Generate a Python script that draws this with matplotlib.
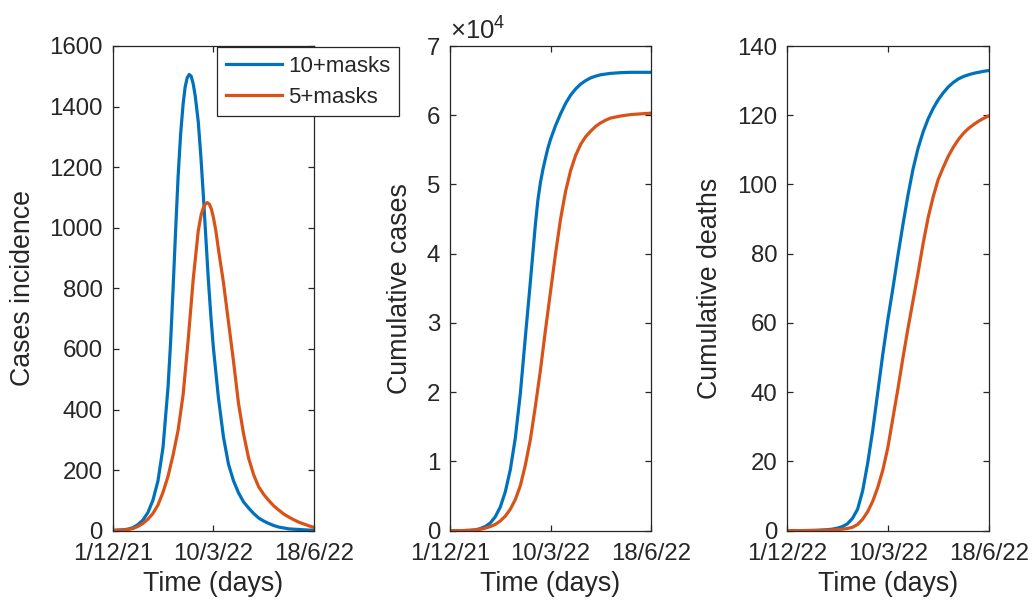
import matplotlib
matplotlib.use("Agg")
import matplotlib.pyplot as plt
from matplotlib.ticker import FuncFormatter

plt.rcParams['font.family'] = ['Liberation Sans', 'DejaVu Sans']
plt.rcParams['mathtext.fontset'] = 'custom'
plt.rcParams['mathtext.rm'] = 'Liberation Sans'

# ---------------- data ----------------
series_labels = ['10+masks', '5+masks']
colors = ['#0072BD', '#D95319']

# Panel 1: cases incidence
inc_days_blue = [0, 5, 10, 15, 20, 25, 30, 35, 40, 45, 50, 55, 57.5, 60, 62.5, 65, 67.5, 70, 72, 74,
                 76, 78, 80, 82, 85, 87.5, 90, 92.5, 95, 97.5, 100, 105, 110, 115, 120, 125, 130,
                 135, 140, 145, 150, 155, 160, 165, 170, 175, 180, 185, 190, 195, 200]
inc_blue = [1, 2, 3, 5, 10, 20, 35, 60, 101, 165, 275, 475, 620, 800, 990, 1170, 1310, 1410, 1465, 1495,
            1506, 1500, 1475, 1435, 1350, 1240, 1110, 970, 830, 710, 605, 440, 310, 220, 165, 125, 95,
            75, 57, 42, 32, 24, 17, 12, 9, 6, 5, 4, 3, 2, 2]
inc_days_orange = [0, 5, 10, 15, 20, 25, 30, 35, 40, 45, 50, 55, 60, 65, 70, 75, 80, 85, 88, 90, 92,
                   94, 96, 98, 100, 102.5, 105, 110, 115, 120, 125, 130, 135, 140, 145, 150, 155,
                   160, 165, 170, 175, 180, 185, 190, 195, 200]
inc_orange = [1, 1.5, 2, 4, 7, 14, 24, 38, 57, 85, 127, 180, 250, 332, 450, 630, 830, 990, 1045, 1065,
              1078, 1083, 1078, 1062, 1035, 990, 930, 820, 690, 560, 420, 320, 240, 185, 145, 120,
              100, 82, 68, 55, 45, 36, 28, 22, 16, 11]

# Panel 2: cumulative cases
cum_days_blue = [0, 5, 10, 15, 20, 25, 30, 35, 40, 45, 50, 55, 60, 65, 70, 75, 80, 85, 87.5, 90,
                 92.5, 95, 97.5, 100, 105, 110, 115, 120, 125, 130, 135, 140, 145, 150, 155, 160,
                 170, 180, 190, 200]
cum_blue = [0, 0, 10, 30, 60, 120, 300, 600, 1100, 2000, 3400, 5600, 8800, 13400, 19800, 28000,
            36000, 44300, 47800, 50300, 52200, 53800, 55300, 56500, 58500, 60200, 61700, 62900,
            63800, 64500, 65000, 65400, 65650, 65850, 65950, 66050, 66150, 66200, 66200, 66200]
cum_days_orange = [0, 5, 10, 15, 20, 25, 30, 35, 40, 45, 50, 55, 60, 65, 70, 75, 80, 85, 90, 95,
                   100, 105, 110, 115, 120, 125, 130, 135, 140, 145, 150, 155, 160, 170, 180, 190, 200]
cum_orange = [0, 0, 10, 20, 50, 100, 200, 360, 600, 900, 1400, 2100, 3100, 4500, 6500, 9500,
              13200, 18000, 23200, 29000, 34500, 40000, 45000, 49000, 52000, 54200, 55800,
              56900, 57700, 58400, 58900, 59300, 59600, 59900, 60100, 60200, 60300]

# Panel 3: cumulative deaths
death_days = [0, 10, 20, 30, 35, 40, 45, 50, 55, 60, 65, 70, 75, 80, 85, 90, 95, 100, 105, 110,
              115, 120, 125, 130, 135, 140, 145, 150, 155, 160, 165, 170, 175, 180, 185, 190, 195, 200]
death_blue = [0, 0.02, 0.05, 0.12, 0.2, 0.3, 0.45, 0.75, 1.2, 2.0, 3.6, 6.2, 11.5, 19.5, 29, 40,
              51, 61, 70, 79.5, 88.5, 97, 104.5, 110.5, 115.2, 119, 122, 124.5, 126.5, 128.2, 129.5,
              130.5, 131.2, 131.7, 132.1, 132.4, 132.7, 132.9]
death_orange = [0, 0.01, 0.03, 0.07, 0.1, 0.15, 0.22, 0.32, 0.45, 0.65, 1.0, 1.8, 3.3, 5.5, 8.5,
                12.5, 17.5, 24, 32.5, 41, 50, 58.5, 66.5, 74.5, 83, 90.5, 96.5, 101.5, 105, 108.2,
                110.8, 113, 114.8, 116.2, 117.3, 118.3, 119.1, 119.8]

xtick_pos = [0, 100, 200]
xtick_labels_a = ['1/12/21', '10/3/22', '18/6/22']
xtick_labels_c = ['1/12/22', '10/3/22', '18/6/22']

ylabels = ['Cases incidence', 'Cumulative cases', 'Cumulative deaths']
xlabel = 'Time (days)'

# ---------------- figure ----------------
fig = plt.figure(figsize=(10.36, 6.11), dpi=100)
W, H = 1036, 611
def pos(l, r, t, b):
    return [l / W, 1 - b / H, (r - l) / W, (b - t) / H]

ax1 = fig.add_axes(pos(112.7, 314.0, 46.0, 530.7))
ax2 = fig.add_axes(pos(450.0, 651.0, 46.0, 530.7))
ax3 = fig.add_axes(pos(787.0, 988.7, 46.0, 530.7))

ink = '#262626'
lw = 2.3
TICK_FS = 17.3
LABEL_FS = 19.3

def style(ax, labels):
    ax.set_xlim(0, 200)
    ax.set_xticks(xtick_pos)
    ax.set_xticklabels(labels)
    for s in ax.spines.values():
        s.set_color(ink)
        s.set_linewidth(0.9)
    ax.tick_params(direction='in', length=4, width=0.9, color=ink, labelcolor=ink,
                   labelsize=TICK_FS, top=True, right=True)
    ax.tick_params(axis='x', pad=9)
    ax.tick_params(axis='y', pad=7)
    ax.set_xlabel(xlabel, fontsize=LABEL_FS, color=ink, labelpad=4)

# Panel 1
l1, = ax1.plot(inc_days_blue, inc_blue, color=colors[0], lw=lw, label=series_labels[0])
l2, = ax1.plot(inc_days_orange, inc_orange, color=colors[1], lw=lw, label=series_labels[1])
ax1.set_ylim(0, 1600)
ax1.set_yticks(range(0, 1601, 200))
style(ax1, xtick_labels_a)
ax1.set_ylabel(ylabels[0], fontsize=LABEL_FS, color=ink, labelpad=10)

# Panel 2
ax2.plot(cum_days_blue, cum_blue, color=colors[0], lw=lw)
ax2.plot(cum_days_orange, cum_orange, color=colors[1], lw=lw)
ax2.set_ylim(0, 70000)
ax2.set_yticks(range(0, 70001, 10000))
ax2.yaxis.set_major_formatter(FuncFormatter(lambda v, p: f"{v / 1e4:g}"))
style(ax2, xtick_labels_a)
ax2.set_ylabel(ylabels[1], fontsize=LABEL_FS, color=ink, labelpad=10)
ax2.text(0.0, 1.0124, r'×$\mathregular{10^{4}}$', transform=ax2.transAxes,
         ha='left', va='baseline', fontsize=18.5, color=ink)

# Panel 3
ax3.plot(death_days, death_blue, color=colors[0], lw=lw)
ax3.plot(death_days, death_orange, color=colors[1], lw=lw)
ax3.set_ylim(0, 140)
ax3.set_yticks(range(0, 141, 20))
style(ax3, xtick_labels_c)
ax3.set_ylabel(ylabels[2], fontsize=LABEL_FS, color=ink, labelpad=10)

leg = fig.legend(handles=[l1, l2], loc='upper left',
                 bbox_to_anchor=(216.7 / W, 1 - 46.7 / H), borderaxespad=0,
                 fontsize=16, frameon=True, fancybox=False, framealpha=1,
                 edgecolor=ink, handlelength=2.55, handletextpad=0.26,
                 borderpad=0.4, labelspacing=0.45)
leg.get_frame().set_linewidth(0.9)
for t in leg.get_texts():
    t.set_color(ink)

fig.savefig('out.png', dpi=100)
